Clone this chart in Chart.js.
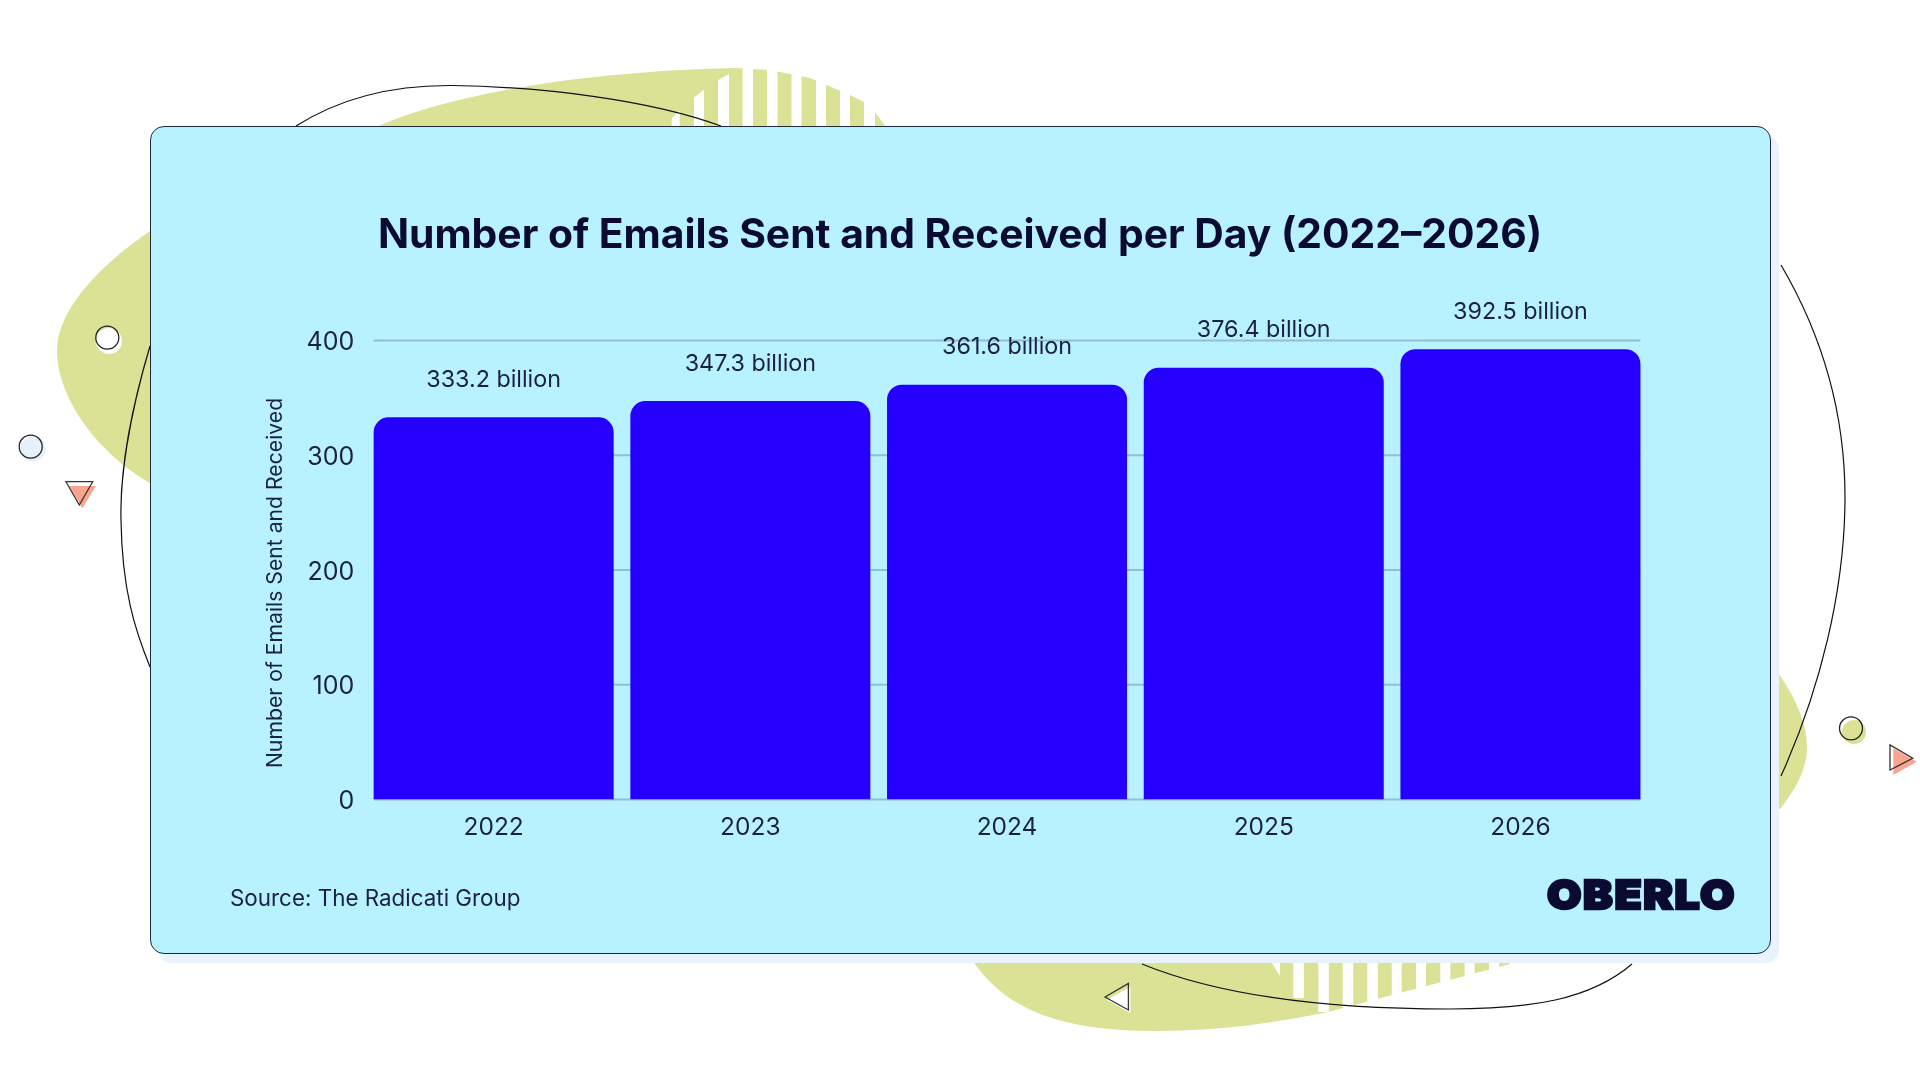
<!DOCTYPE html>
<html>
<head>
<meta charset="utf-8">
<title>Number of Emails Sent and Received per Day</title>
<script src="https://cdn.jsdelivr.net/npm/chart.js@4"></script>
<style>
  html, body { margin: 0; padding: 0; background: #fff; }
  #page { position: relative; width: 1920px; height: 1080px; overflow: hidden; font-family: Inter, sans-serif; }
  #decor { position: absolute; left: 0; top: 0; }
  #card { position: absolute; left: 150px; top: 126px; width: 1619px; height: 826px; box-sizing: content-box;
          background: #b8f1ff; border: 1px solid #1e2a3a; border-radius: 14px; box-shadow: 8px 9px 0 #e9f3fd; }
  #myChart { position: absolute; left: 0; top: 0; }
  #source { position: absolute; left: 230px; top: 884px; font-size: 22.4px; line-height: 28px; color: #1b2140; }
  #logo { position: absolute; left: 1547px; top: 870px; font-size: 40px; line-height: 50px; font-weight: 900;
          letter-spacing: 1.5px; color: #0a0a33; -webkit-text-stroke: 2.5px #0a0a33;
          transform: scaleX(1.11); transform-origin: left center; }
</style>
</head>
<body>
<div id="page">
  <svg id="decor" width="1920" height="1080" viewBox="0 0 1920 1080">
    <defs>
      <clipPath id="topStripes"><path d="M660 130 L672 118 C695 95 720 75 745 68 L880 60 L880 130 Z"/></clipPath>
    </defs>
    <g fill="#dbe295">
      <path d="M150 231 C100 265 57 310 57 350 C57 400 100 455 150 483 L300 483 L300 200 Z"/>
      <path d="M370 130 C430 100 560 72 735 68 L770 70 L810 78 L850 95 L870 105 L888 130 Z"/>
      <path d="M1779 674 C1797 700 1807 725 1807 747 C1807 770 1795 790 1780 809 L1700 809 L1700 674 Z"/>
      <path d="M966 950 C1000 1010 1060 1031 1156 1031 C1220 1031 1280 1022 1328 1012 L1510 964 L1510 950 Z"/>
    </g>
    <g fill="#fff" clip-path="url(#topStripes)">
      <rect x="671.7" y="60" width="8" height="70"/>
      <rect x="694" y="60" width="10" height="70"/>
      <rect x="718" y="60" width="11" height="70"/>
      <rect x="742.5" y="60" width="10.5" height="70"/>
      <rect x="767" y="60" width="10.5" height="70"/>
      <rect x="791.5" y="60" width="10" height="70"/>
      <rect x="816" y="60" width="10" height="70"/>
      <rect x="840" y="60" width="10" height="70"/>
      <rect x="864" y="60" width="11" height="70"/>
    </g>
    <g fill="#fff">
      <path d="M1270 960 L1280 960 L1280 976 Z"/>
      <rect x="1293.3" y="960" width="10.5" height="38"/>
      <rect x="1318.3" y="960" width="10.5" height="52"/>
      <rect x="1342.7" y="960" width="10.5" height="60"/>
      <rect x="1367.3" y="960" width="10.5" height="60"/>
      <rect x="1391.7" y="960" width="10" height="60"/>
      <rect x="1416" y="960" width="10" height="60"/>
      <rect x="1440.3" y="960" width="10" height="60"/>
      <rect x="1464.6" y="960" width="10" height="60"/>
      <rect x="1489" y="960" width="10" height="60"/>
    </g>
    <g fill="none" stroke="#111" stroke-width="1.2">
      <path d="M296 126 C345 95 400 85 452 85.5 C545 87 650 100 721 126"/>
      <path d="M150 346 C128 420 120 480 121 520 C122 590 135 630 150 667"/>
      <path d="M1781 265 C1825 340 1845 420 1845 497 C1845 590 1820 690 1781 776"/>
      <path d="M1142 964 C1230 1000 1350 1009 1450 1009 C1530 1009 1590 1000 1632 964"/>
    </g>
    <circle cx="109" cy="341" r="13" fill="#fff"/>
    <circle cx="107.3" cy="337.7" r="11.5" fill="none" stroke="#222" stroke-width="1.3"/>
    <circle cx="33" cy="449" r="12.5" fill="#e6f0fb"/>
    <circle cx="30.7" cy="446.7" r="11.5" fill="none" stroke="#222" stroke-width="1.3"/>
    <path d="M69.3 486 L96 486 L82.3 508.3 Z" fill="#f9a48e"/>
    <path d="M66 481.7 L92.7 481.7 L79.3 505 Z" fill="none" stroke="#333" stroke-width="1.3"/>
    <circle cx="1854" cy="732" r="12" fill="#dbe295"/>
    <circle cx="1851" cy="728.3" r="11.5" fill="none" stroke="#222" stroke-width="1.3"/>
    <path d="M1893.3 748.3 L1893.3 775 L1916.7 761.7 Z" fill="#f9a48e"/>
    <path d="M1890 745 L1890 770 L1912.7 758.3 Z" fill="none" stroke="#333" stroke-width="1.3"/>
    <path d="M1107 1000 L1130.4 986.5 L1130.4 1013 Z" fill="#fff"/>
    <path d="M1105 997 L1128.4 983.5 L1128.4 1010 Z" fill="none" stroke="#333" stroke-width="1.3"/>
  </svg>
  <div id="card"></div>
  <canvas id="myChart" width="1920" height="1080"></canvas>
  <div id="source">Source: The Radicati Group</div>
  <div id="logo">OBERLO</div>
</div>
<script>
const years = ['2022', '2023', '2024', '2025', '2026']
const emailsPerDay = [333.2, 347.3, 361.6, 376.4, 392.5]
const valueLabels = ['333.2 billion', '347.3 billion', '361.6 billion', '376.4 billion', '392.5 billion']
const yTicks = [0, 100, 200, 300, 400]
const chartTitle = 'Number of Emails Sent and Received per Day (2022\u20132026)'
const yTitle = 'Number of Emails Sent and Received'

const inkColor = '#1b2140'

// grid only runs between the outer edges of the bars, the native one is wider
const barGrid = {
    id: 'barGrid',
    beforeDatasetsDraw(chart) {
        const bars = chart.getDatasetMeta(0).data
        const left = bars[0].x - bars[0].width / 2
        const right = bars[bars.length - 1].x + bars[bars.length - 1].width / 2
        const ctx = chart.ctx
        ctx.save()
        ctx.strokeStyle = '#95becb'
        ctx.lineWidth = 2
        yTicks.forEach(tick => {
            const y = chart.scales.y.getPixelForValue(tick)
            ctx.beginPath()
            ctx.moveTo(left, y)
            ctx.lineTo(right, y)
            ctx.stroke()
        })
        ctx.restore()
    }
}

const chartText = {
    id: 'chartText',
    afterDatasetsDraw(chart) {
        const ctx = chart.ctx
        ctx.save()
        ctx.textAlign = 'center'
        ctx.textBaseline = 'middle'
        // title is centred on the page, the plot is not
        ctx.fillStyle = '#0a0a33'
        ctx.font = '700 40.8px Inter'
        ctx.fillText(chartTitle, 960, 235.5)
        ctx.fillStyle = inkColor
        ctx.font = '23.3px Inter'
        chart.getDatasetMeta(0).data.forEach((bar, i) => {
            ctx.fillText(valueLabels[i], bar.x, bar.y - 37.5)
        })
        // axis title sits lower than the middle of the plot, so it is not the native one
        ctx.translate(276, 583)
        ctx.rotate(-Math.PI / 2)
        ctx.font = '21.2px Inter'
        ctx.fillText(yTitle, 0, 0)
        ctx.restore()
    }
}

new Chart(document.getElementById('myChart'), {
    type: 'bar',
    data: {
        labels: years,
        datasets: [{
            data: emailsPerDay,
            backgroundColor: '#2600ff',
            borderRadius: { topLeft: 15, topRight: 15, bottomLeft: 0, bottomRight: 0 },
            borderSkipped: false,
            barPercentage: 0.935,
            categoryPercentage: 1
        }]
    },
    options: {
        responsive: false,
        animation: false,
        devicePixelRatio: 1,
        layout: { padding: { top: 340.6, right: 271.2 } },
        plugins: {
            legend: { display: false },
            tooltip: { enabled: false }
        },
        scales: {
            x: {
                grid: { display: false, drawTicks: false },
                border: { display: false },
                ticks: { color: inkColor, font: { family: 'Inter', size: 24.5 }, padding: 13, maxRotation: 0 },
                afterFit(scale) { scale.height = 280.4 }
            },
            y: {
                min: 0,
                max: 400,
                grid: { display: false, drawTicks: false },
                border: { display: false },
                afterBuildTicks(scale) { scale.ticks = yTicks.map(value => ({ value })) },
                ticks: { color: inkColor, font: { family: 'Inter', size: 25 }, padding: 11, labelOffset: 2 },
                afterFit(scale) { scale.width = 365.3 }
            }
        }
    },
    plugins: [barGrid, chartText]
})
</script>
</body>
</html>
